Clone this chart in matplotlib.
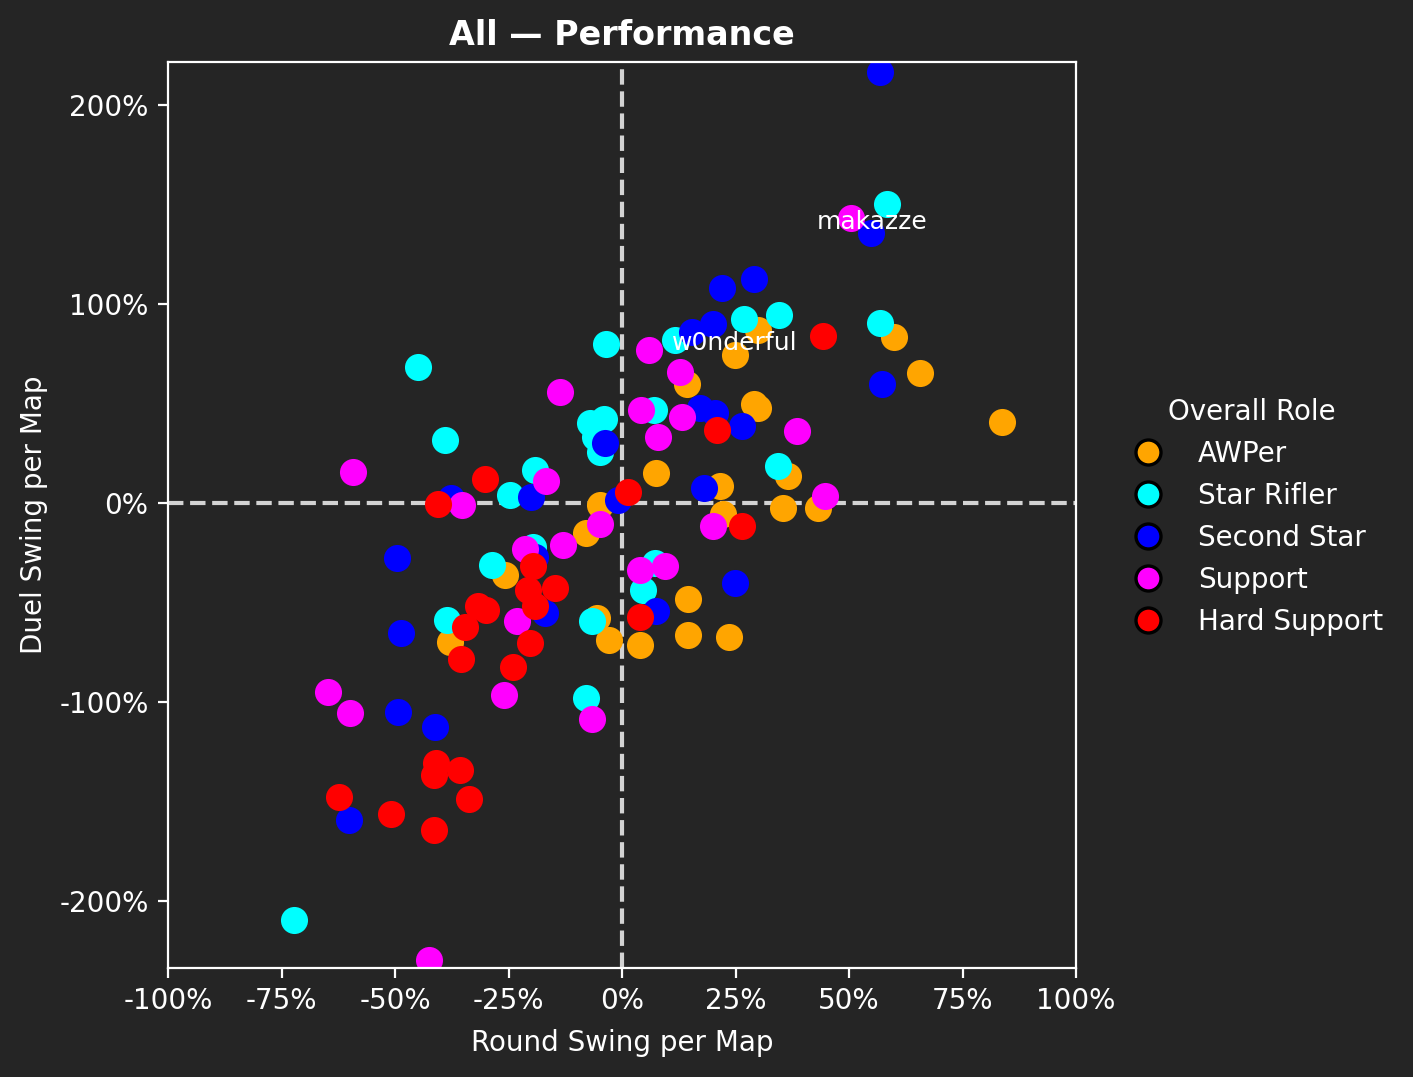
import numpy as np
import matplotlib.pyplot as plt
from matplotlib.lines import Line2D
from matplotlib.ticker import FuncFormatter

# Round swing (x, %) and duel swing (y, %) per role
awper_x = [83.7, 65.6, 59.9, 30.0, 24.9, 14.3, 29.0, 29.9, 7.5, 21.6, 36.6, 35.5, 43.2, 22.2,
           -4.8, -7.9, -25.8, -37.9, -5.5, -2.9, 4.0, 14.5, 14.5, 23.6]
awper_y = [40.7, 65.3, 83.4, 86.9, 74.4, 59.8, 49.5, 47.5, 15.1, 8.5, 13.6, -2.5, -2.5, -5.5,
           -1.0, -15.1, -36.2, -69.8, -57.8, -68.8, -71.4, -48.2, -66.3, -67.3]

rifler_x = [-72.2, -44.9, -39.0, 58.4, 56.8, 34.6, 26.9, 11.7, -3.5, 7.0, -7.0, -4.0, -5.9,
            -4.8, -19.2, -24.7, -28.6, -38.5, -19.6, -6.6, -7.9, 7.3, 4.6, 34.4]
rifler_y = [-209.5, 68.3, 31.7, 150.3, 90.5, 94.5, 92.5, 81.9, 79.9, 46.7, 40.2, 42.2, 33.2,
            25.6, 16.6, 4.0, -31.2, -58.8, -22.1, -59.3, -98.0, -30.2, -43.7, 18.6]

second_x = [56.8, 54.8, 29.1, 22.0, 20.0, 15.4, 57.3, 17.2, 20.5, 26.4, 18.1, -0.9, -3.7,
            -20.0, -37.7, -49.6, -48.7, -19.2, -17.0, -49.3, -41.2, -60.1, 24.9, 7.5]
second_y = [216.6, 135.7, 112.6, 108.0, 90.0, 85.9, 59.8, 47.7, 45.2, 38.7, 7.5, 1.5, 30.2,
            3.0, 2.5, -27.6, -65.3, -27.1, -55.3, -105.0, -112.6, -159.3, -40.2, -54.3]

support_x = [50.4, 5.9, 12.8, 4.2, 13.2, 7.9, 38.5, 44.7, -13.7, -59.3, -35.2, -16.7, -4.8,
             -13.0, -21.4, -23.1, -26.0, -64.8, -59.9, -6.6, -42.5, 4.0, 9.5, 20.0]
support_y = [143.2, 76.9, 65.8, 46.7, 43.2, 33.2, 36.2, 3.5, 55.8, 15.6, -1.0, 11.1, -10.6,
             -21.1, -23.1, -59.3, -96.5, -95.0, -105.5, -108.5, -229.6, -33.7, -31.7, -11.6]

hard_x = [44.3, 20.9, 26.4, 1.3, -30.2, -40.5, -19.6, -20.7, -14.8, -19.2, -31.7, -30.0,
          -34.6, -35.5, -20.3, -24.0, -41.0, -41.4, -35.7, -33.7, -62.3, -50.9, -41.4, 4.0]
hard_y = [83.9, 36.7, -11.6, 5.5, 12.1, -0.5, -31.7, -43.7, -42.7, -51.8, -51.8, -53.8,
          -62.3, -78.4, -70.4, -82.4, -130.7, -136.7, -134.2, -148.7, -147.7, -156.3, -164.3, -57.3]

roles = ['AWPer', 'Star Rifler', 'Second Star', 'Support', 'Hard Support']
colors = ['orange', 'cyan', 'blue', 'magenta', 'red']
xs = [awper_x, rifler_x, second_x, support_x, hard_x]
ys = [awper_y, rifler_y, second_y, support_y, hard_y]

# labelled players
names = ['makazze', 'w0nderful']
name_x = [55.1, 24.9]
name_y = [141.0, 80.4]

bg = '#252525'
plt.rcParams['text.color'] = 'white'
plt.rcParams['axes.labelcolor'] = 'white'
plt.rcParams['xtick.color'] = 'white'
plt.rcParams['ytick.color'] = 'white'

fig = plt.figure(figsize=(7.065, 5.385), dpi=200, facecolor=bg)
ax = fig.add_axes([0.1189, 0.1012, 0.6426, 0.8412])
ax.set_facecolor(bg)
for sp in ax.spines.values():
    sp.set_color('white')

ax.axvline(0, color='lightgray', linestyle='--', linewidth=1.5, zorder=1)
ax.axhline(0, color='lightgray', linestyle='--', linewidth=1.5, zorder=1)

for x, y, c in zip(xs, ys, colors):
    ax.scatter(x, y, s=95, color=c, linewidths=0, zorder=2)

for n, x, y in zip(names, name_x, name_y):
    ax.text(x, y, n, ha='center', va='center', fontsize=9, color='white', zorder=3)

ax.set_xlim(-100, 100)
ax.set_ylim(-233.7, 221.6)
ax.set_xticks(np.arange(-100, 101, 25))
ax.set_yticks([-200, -100, 0, 100, 200])
pct = FuncFormatter(lambda v, p: '{:.0f}%'.format(v))
ax.xaxis.set_major_formatter(pct)
ax.yaxis.set_major_formatter(pct)
ax.set_xlabel('Round Swing per Map', labelpad=5)
ax.set_ylabel('Duel Swing per Map')
ax.set_title('All \u2014 Performance', fontweight='bold')

handles = [Line2D([0], [0], marker='o', linestyle='', markersize=9, markerfacecolor=c,
                  markeredgecolor='black', markeredgewidth=1.2) for c in colors]
leg = fig.legend(handles, roles, title='Overall Role', frameon=False,
                 loc='center left', bbox_to_anchor=(0.775, 0.520))
leg.get_title().set_color('white')

plt.savefig('out.png', dpi=200, facecolor=bg)
